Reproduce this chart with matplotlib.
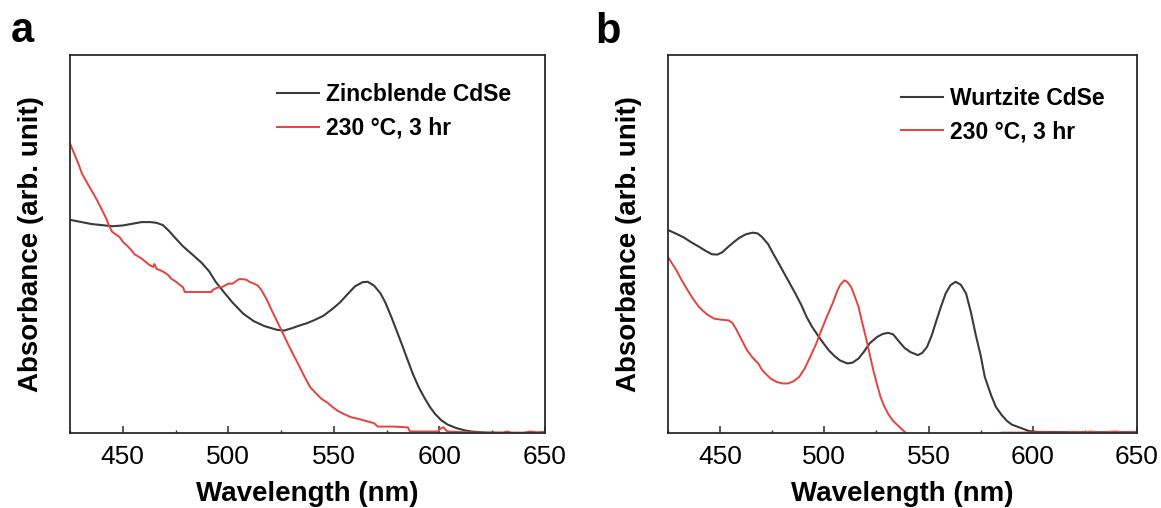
import matplotlib
matplotlib.use("Agg")
import matplotlib.pyplot as plt
from matplotlib.ticker import MultipleLocator

# ---------------- data (arbitrary units) ----------------
# Panel a: Zincblende CdSe
za_wl = [425, 435, 445, 450, 455, 459, 463, 466, 469, 472, 475, 478.5, 483, 487.4, 491, 494,
         498, 502, 507, 512, 517, 523, 526.4, 530, 533.5, 537, 540.5, 545, 549.5, 553, 556.6,
         560, 563.6, 566, 569, 572, 574.3, 577, 579.7, 582.5, 585, 587.5, 590.2, 593, 595.6,
         598, 601, 604, 608, 612, 615, 622, 635, 650]
za_abs = [0.564, 0.553, 0.547, 0.549, 0.554, 0.558, 0.558, 0.556, 0.550, 0.534, 0.515, 0.494,
          0.472, 0.450, 0.427, 0.400, 0.372, 0.345, 0.316, 0.296, 0.283, 0.273, 0.271, 0.277,
          0.284, 0.290, 0.298, 0.310, 0.329, 0.346, 0.368, 0.388, 0.399, 0.400, 0.390, 0.370,
          0.346, 0.310, 0.271, 0.230, 0.192, 0.155, 0.121, 0.092, 0.068, 0.050, 0.033, 0.022,
          0.013, 0.007, 0.004, 0.001, 0.000, 0.000]

# Panel a: 230 °C, 3 hr
ra_wl = [425, 427, 429, 430.7, 432.5, 434.2, 436, 437.8, 440, 442.2, 443.5, 445, 446.5, 448.4,
         450, 452, 454, 455.5, 457, 459, 461, 462.5, 464.4, 465, 466, 468, 470, 471.5, 473,
         475, 477, 478.5, 479.4, 485, 492, 492.5, 494.5, 497, 500, 502, 505, 507, 508.7, 510,
         512.2, 514, 515.8, 517, 518.4, 520.5, 522.9, 525.5, 528.2, 531, 533.5, 536, 538.8,
         541.5, 544.2, 547, 549.5, 552, 554.8, 558, 561.9, 565, 569, 570.8, 578, 585, 586,
         592, 599.3, 600.5, 602, 603.7, 612, 622, 630, 632, 634, 640, 643, 646, 650]
ra_abs = [0.766, 0.739, 0.712, 0.686, 0.668, 0.651, 0.634, 0.616, 0.592, 0.567, 0.548, 0.532,
          0.526, 0.519, 0.506, 0.496, 0.484, 0.473, 0.468, 0.461, 0.452, 0.445, 0.439, 0.447,
          0.434, 0.430, 0.424, 0.418, 0.408, 0.401, 0.392, 0.386, 0.373, 0.373, 0.373, 0.378,
          0.384, 0.386, 0.395, 0.395, 0.407, 0.407, 0.405, 0.400, 0.395, 0.390, 0.377, 0.365,
          0.351, 0.325, 0.298, 0.268, 0.236, 0.205, 0.178, 0.150, 0.121, 0.105, 0.090, 0.080,
          0.068, 0.058, 0.050, 0.042, 0.037, 0.032, 0.026, 0.017, 0.017, 0.015, 0.004,
          0.004, 0.004, 0.012, 0.015, 0.004, 0.002, 0.001, 0.001, 0.004, 0.001, 0.001, 0.004,
          0.002, 0.003]

# Panel b: Wurtzite CdSe
wb_wl = [425, 429, 432.7, 436, 439.8, 443, 446, 448.7, 451, 454, 457, 459.4, 462.5, 465.6,
         468, 470, 473, 475.4, 478, 480.8, 483.5, 486.1, 489, 491.5, 494, 496.8, 499.5, 502.1,
         505, 507.5, 511, 513.5, 516.4, 519, 521.7, 525.3, 528, 530.6, 533, 536, 538.5, 541.3,
         544.9, 547, 549.3, 551.5, 553.8, 556, 558.2, 560.5, 563, 565.5, 568, 570.3, 572.5,
         575, 577, 580, 582.3, 585, 587.6, 590, 593, 598.3, 601.9, 620, 650]
wb_abs = [0.537, 0.527, 0.517, 0.505, 0.493, 0.482, 0.473, 0.472, 0.478, 0.493, 0.507, 0.517,
          0.526, 0.530, 0.528, 0.519, 0.500, 0.475, 0.450, 0.422, 0.395, 0.369, 0.338, 0.307,
          0.282, 0.259, 0.238, 0.219, 0.203, 0.192, 0.184, 0.186, 0.197, 0.215, 0.237, 0.254,
          0.262, 0.265, 0.261, 0.241, 0.225, 0.214, 0.206, 0.212, 0.228, 0.258, 0.298, 0.335,
          0.369, 0.391, 0.400, 0.392, 0.369, 0.320, 0.263, 0.205, 0.148, 0.100, 0.069, 0.048,
          0.032, 0.022, 0.016, 0.005, 0.003, 0.002, 0.002]

# Panel b: 230 °C, 3 hr
rb_wl = [425, 427, 429, 431.5, 434.4, 437, 439.8, 442, 444.2, 446.9, 450, 454, 455.8, 457.6,
         460, 462.9, 465.5, 468.3, 470, 471.8, 474.5, 477.2, 480, 482.5, 485, 487.9, 490.5,
         493.2, 496, 498.6, 501, 503.9, 505.8, 507.5, 509.6, 511, 512.8, 514.5, 516.4, 518,
         519.9, 521.7, 523.5, 525.3, 527, 528.8, 530.6, 533, 536, 538, 539.2, 541, 583,
         585, 595, 605, 615, 620, 624, 628, 632, 636, 640, 644, 648, 650]
rb_abs = [0.466, 0.448, 0.431, 0.405, 0.378, 0.355, 0.334, 0.322, 0.312, 0.303, 0.300, 0.298,
          0.292, 0.276, 0.250, 0.219, 0.200, 0.184, 0.168, 0.157, 0.143, 0.135, 0.131, 0.131,
          0.136, 0.148, 0.170, 0.201, 0.235, 0.272, 0.305, 0.342, 0.370, 0.391, 0.404, 0.400,
          0.387, 0.363, 0.334, 0.296, 0.254, 0.210, 0.166, 0.128, 0.095, 0.070, 0.051, 0.032,
          0.016, 0.006, 0.000, -0.030, -0.030, 0.001, 0.001, 0.002, 0.001, 0.003, 0.001,
          0.004, 0.001, 0.003, 0.004, 0.001, 0.003, 0.002]

xticks_major = [450, 500, 550, 600, 650]
labels_a = ["Zincblende CdSe", "230 \u00b0C, 3 hr"]
labels_b = ["Wurtzite CdSe", "230 \u00b0C, 3 hr"]

# ---------------- style ----------------
plt.rcParams['font.family'] = ['Liberation Sans', 'DejaVu Sans']
BLACK = '#3a3a3a'
RED = '#e8413c'
SPINE = '#2b2b2b'

fig = plt.figure(figsize=(11.61, 5.08), dpi=100)
ax_a = fig.add_axes([70 / 1161, 1 - 433 / 508, 475 / 1161, 378 / 508])
ax_b = fig.add_axes([668 / 1161, 1 - 433 / 508, 469 / 1161, 378 / 508])


def style(ax, black_wl, black_abs, red_wl, red_abs, labels, leg_anchor):
    ax.plot(black_wl, black_abs, color=BLACK, lw=1.5, label=labels[0])
    ax.plot(red_wl, red_abs, color=RED, lw=1.4, label=labels[1])
    ax.set_xlim(425, 650)
    ax.set_ylim(0, 1)
    ax.set_xticks(xticks_major)
    ax.xaxis.set_minor_locator(MultipleLocator(25))
    ax.tick_params(axis='x', which='major', direction='in', length=5, width=1.1,
                   color=SPINE, labelsize=19, pad=9)
    ax.tick_params(axis='x', which='minor', direction='in', length=2.5, width=1.0,
                   color=SPINE)
    ax.set_yticks([])
    for s in ax.spines.values():
        s.set_color(SPINE)
        s.set_linewidth(1.3)
    ax.set_xlabel("Wavelength (nm)", fontsize=20, fontweight='bold', labelpad=8.5)
    ax.set_ylabel("Absorbance (arb. unit)", fontsize=20, fontweight='bold', labelpad=19)
    ax.legend(loc='upper left', bbox_to_anchor=leg_anchor, frameon=False,
              prop={'size': 16.5, 'weight': 'bold'}, handlelength=1.85, handletextpad=0.3,
              labelspacing=0.45, borderpad=0, borderaxespad=0)


style(ax_a, za_wl, za_abs, ra_wl, ra_abs, labels_a, (0.436, 0.925))
style(ax_b, wb_wl, wb_abs, rb_wl, rb_abs, labels_b, (0.497, 0.915))

fig.text(11 / 1161, 1 - 42 / 508, "a", fontsize=30, fontweight='bold', va='baseline')
fig.text(595 / 1161, 1 - 43 / 508, "b", fontsize=30, fontweight='bold', va='baseline')

fig.savefig("out.png", dpi=100)
